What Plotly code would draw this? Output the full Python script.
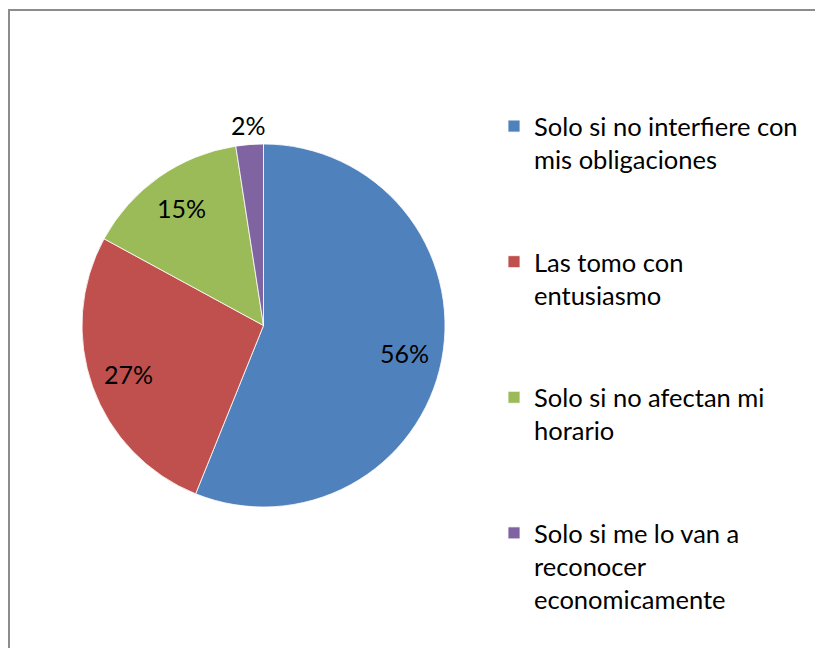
import math
import plotly.graph_objects as go

labels = ["Solo si no interfiere con<br>mis obligaciones",
          "Las tomo con<br>entusiasmo",
          "Solo si no afectan mi<br>horario",
          "Solo si me lo van a<br>reconocer<br>economicamente"]
values = [23, 11, 6, 1]
colors = ["#4F81BD", "#C0504D", "#9BBB59", "#8064A2"]

W, H = 823, 648
OFF = 8  # page body margin offset
CX, CY, R = 263.5 - OFF, 325.5 - OFF, 181.5  # pixel geometry of the pie
FONT = "Lato"

# pad legend entries (except the last) with blank lines so entries are spaced apart
legend_labels = [lab + ("<br> <br> " if i < len(labels) - 1 else "") for i, lab in enumerate(labels)]

fig = go.Figure(go.Pie(
    labels=legend_labels,
    values=values,
    marker=dict(colors=colors, line=dict(color="white", width=0.8)),
    sort=False,
    direction="clockwise",
    rotation=0,
    textinfo="none",
    hoverinfo="label+percent",
    domain=dict(x=[(CX - R) / W, (CX + R) / W],
                y=[(H - CY - R) / H, (H - CY + R) / H]),
))

# percentage labels placed from the data
total = sum(values)
cum = 0.0
annotations = []
for v in values:
    frac = v / total
    mid = (cum + frac / 2) * 2 * math.pi
    cum += frac
    rr = R * (0.79 if frac >= 0.05 else 1.11)
    px = CX + rr * math.sin(mid)
    py = CY - rr * math.cos(mid)
    annotations.append(dict(
        x=px / W, y=1 - py / H, xref="paper", yref="paper",
        text=f"{round(frac * 100)}%", showarrow=False,
        xanchor="center", yanchor="middle",
        font=dict(family=FONT, size=25, color="black"),
    ))

fig.update_layout(
    width=W, height=H,
    margin=dict(l=0, r=0, t=0, b=0),
    paper_bgcolor="white",
    plot_bgcolor="white",
    showlegend=True,
    legend=dict(
        x=(494 - OFF) / W, y=1 - (103 - OFF) / H, xanchor="left", yanchor="top",
        valign="top",
        font=dict(family=FONT, size=25.5, color="black"),
        bgcolor="rgba(0,0,0,0)",
        itemclick=False, itemdoubleclick=False,
    ),
    annotations=annotations,
    shapes=[dict(type="rect", xref="paper", yref="paper",
                 x0=(9 - OFF) / W, x1=1.05, y0=-0.05, y1=1 - (10 - OFF) / H,
                 line=dict(color="#8C8C8C", width=2), fillcolor="rgba(0,0,0,0)")],
)

fig.write_html("out.html")
